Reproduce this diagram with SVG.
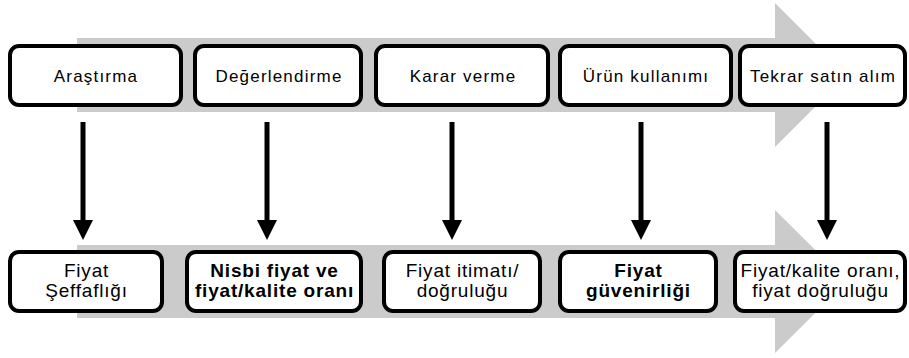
<svg xmlns="http://www.w3.org/2000/svg" width="909" height="358" viewBox="0 0 909 358">
<style>
.band{fill:#cbcbcb}
.box{fill:#ffffff;stroke:#000000;stroke-width:4}
.t{font-family:"Liberation Sans",Arial,sans-serif;font-size:17px;letter-spacing:1.2px;fill:#000;text-anchor:middle}
.b{font-family:"Liberation Sans",Arial,sans-serif;font-size:19px;letter-spacing:0.8px;fill:#000;text-anchor:middle}
.bb{font-weight:bold}
.conn line{stroke:#000;stroke-width:5}
</style>
<defs>
<marker id="ah" markerWidth="4" markerHeight="4" refX="0" refY="2" orient="auto" markerUnits="strokeWidth" viewBox="0 0 4 4">
<path d="M0,0 L4,2 L0,4 Z" fill="#000"/>
</marker>
</defs>
<g id="band-top">
<polygon class="band" points="77,38 775,38 775,3 847,75 775,147 775,112 77,112"/>
</g>
<g id="band-bottom">
<polygon class="band" points="77,245 775,245 775,210 847,281.5 775,353 775,318 77,318"/>
</g>
<g id="n1"><rect class="box" x="10" y="46" width="171" height="59" rx="9"/><text class="t" x="96" y="82">Araştırma</text></g>
<g id="n2"><rect class="box" x="195" y="46" width="166" height="59" rx="9"/><text class="t" x="279" y="82">Değerlendirme</text></g>
<g id="n3"><rect class="box" x="376" y="46" width="172" height="59" rx="9"/><text class="t" x="463" y="82">Karar verme</text></g>
<g id="n4"><rect class="box" x="560" y="46" width="171" height="59" rx="9"/><text class="t" x="646" y="82">Ürün kullanımı</text></g>
<g id="n5"><rect class="box" x="740" y="46" width="165" height="59" rx="9"/><text class="t" x="823" y="82">Tekrar satın alım</text></g>
<g id="m1"><rect class="box" x="10" y="252" width="152" height="59" rx="9"/><text class="b" x="86.5" y="277">Fiyat</text><text class="b" x="86.5" y="297">Şeffaflığı</text></g>
<g id="m2"><rect class="box" x="187" y="252" width="174" height="59" rx="9"/><text class="b bb" x="274.5" y="277">Nisbi fiyat ve</text><text class="b bb" x="274.5" y="297">fiyat/kalite oranı</text></g>
<g id="m3"><rect class="box" x="384" y="252" width="156" height="59" rx="9"/><text class="b" x="462.5" y="277">Fiyat itimatı/</text><text class="b" x="462.5" y="297">doğruluğu</text></g>
<g id="m4"><rect class="box" x="560" y="252" width="156" height="59" rx="9"/><text class="b bb" x="638.5" y="277">Fiyat</text><text class="b bb" x="638.5" y="297">güvenirliği</text></g>
<g id="m5"><rect class="box" x="735" y="252" width="170" height="59" rx="9"/><text class="b" x="820.5" y="277">Fiyat/kalite oranı,</text><text class="b" x="820.5" y="297">fiyat doğruluğu</text></g>
<g id="connectors" class="conn">
<line x1="83" y1="122" x2="83" y2="220" marker-end="url(#ah)"/>
<line x1="267" y1="122" x2="267" y2="220" marker-end="url(#ah)"/>
<line x1="452" y1="122" x2="452" y2="220" marker-end="url(#ah)"/>
<line x1="641" y1="122" x2="641" y2="220" marker-end="url(#ah)"/>
<line x1="827" y1="122" x2="827" y2="220" marker-end="url(#ah)"/>
</g>
</svg>
